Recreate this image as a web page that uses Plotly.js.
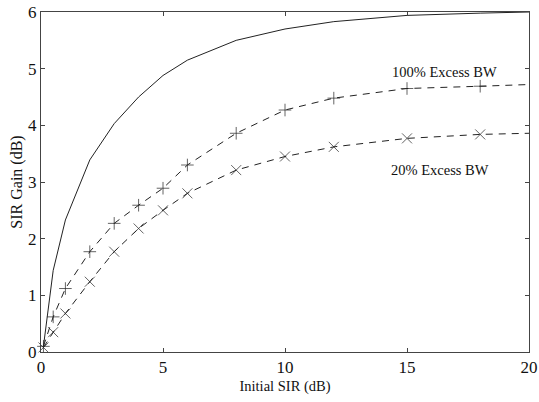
<!DOCTYPE html>
<html><head><meta charset="utf-8">
<script src="https://cdn.plot.ly/plotly-3.0.1.min.js"></script>
<style>html,body{margin:0;padding:0;background:#fff}#c{width:539px;height:402px}</style>
</head><body><div id="c"></div>
<script>
const sirX   = [0.1, 0.5, 1, 2, 3, 4, 5, 6, 8, 10, 12, 15, 18, 20];
const ideal  = [0.1, 1.44, 2.33, 3.39, 4.03, 4.5, 4.88, 5.15, 5.5, 5.70, 5.83, 5.94, 5.98, 6.0];
const bw100  = [0.1, 0.62, 1.12, 1.77, 2.27, 2.59, 2.89, 3.30, 3.86, 4.27, 4.48, 4.65, 4.69, 4.72];
const bw20   = [0.08, 0.35, 0.68, 1.24, 1.77, 2.18, 2.50, 2.80, 3.21, 3.45, 3.62, 3.77, 3.84, 3.86];
const xTicks = [0, 5, 10, 15, 20];
const yTicks = [0, 1, 2, 3, 4, 5, 6];
const labels = ["100% Excess BW", "20% Excess BW"];
const labelPos = [[14.3, 4.94], [14.25, 3.21]];

const font = "Liberation Serif";
const plusSizes = sirX.map((v, i) => i === sirX.length - 1 ? 0 : 9);
const xSizes = sirX.map((v, i) => i === sirX.length - 1 ? 0 : 10);

const traces = [
  {x: sirX, y: ideal, mode: "lines", line: {color: "#222", width: 1}, cliponaxis: false},
  {x: sirX, y: bw100, mode: "lines+markers", line: {color: "#222", width: 1, dash: "7px,6px"},
   marker: {symbol: "cross-thin-open", size: plusSizes, line: {color: "#222", width: 1}}, cliponaxis: false},
  {x: sirX, y: bw20, mode: "lines+markers", line: {color: "#222", width: 1, dash: "7px,6px"},
   marker: {symbol: "x-thin-open", size: xSizes, line: {color: "#222", width: 1}}, cliponaxis: false}
];

const axCommon = {
  showgrid: false, zeroline: false, showline: true, mirror: "ticks",
  linecolor: "#444", linewidth: 1, ticks: "inside", ticklen: 4, tickcolor: "#444",
  tickfont: {family: font, size: 17, color: "#111"}
};

const layout = {
  width: 539, height: 402,
  margin: {l: 41, r: 10, t: 12, b: 50},
  paper_bgcolor: "#fff", plot_bgcolor: "#fff",
  showlegend: false,
  font: {family: font, color: "#111"},
  xaxis: Object.assign({}, axCommon, {
    range: [0, 20], tickvals: xTicks, ticktext: xTicks.map(String),
    title: {text: "Initial SIR (dB)", font: {family: font, size: 14.5, color: "#111"}, standoff: 4}
  }),
  yaxis: Object.assign({}, axCommon, {
    range: [0, 6], tickvals: yTicks, ticktext: yTicks.map(String),
    title: {text: "SIR Gain (dB)", font: {family: font, size: 16, color: "#111"}, standoff: 1}
  }),
  annotations: labels.map((t, i) => ({
    x: labelPos[i][0], y: labelPos[i][1], xref: "x", yref: "y", text: t, showarrow: false,
    xanchor: "left", font: {family: font, size: 14.5, color: "#111"}
  }))
};

Plotly.newPlot("c", traces, layout, {displayModeBar: false, staticPlot: true});
</script></body></html>
